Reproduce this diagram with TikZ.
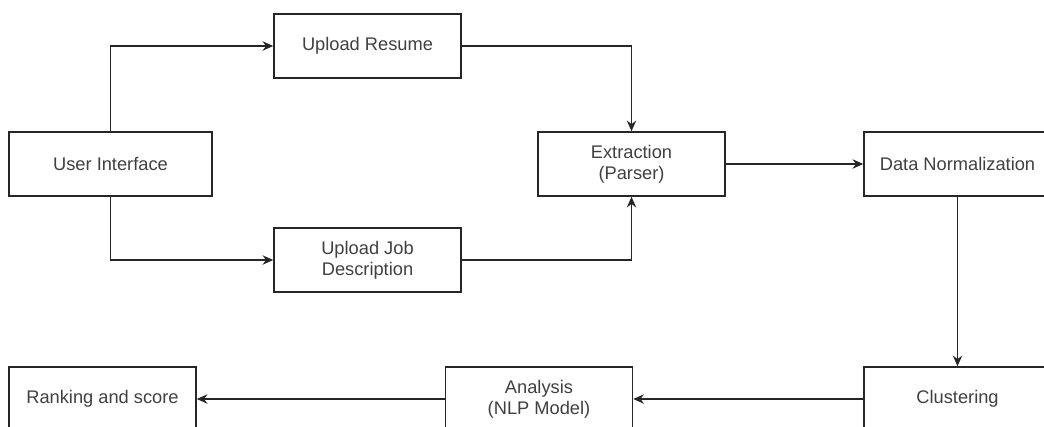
\documentclass[tikz,border=0pt]{standalone}
\usepackage{fontspec}
\setmainfont{Liberation Sans}
\usetikzlibrary{arrows.meta, positioning}

\begin{document}
\begin{tikzpicture}[x=0.75pt, y=-0.75pt, >={Stealth[length=8pt,width=7pt]},
    stepbox/.style={rectangle, draw=black!85, line width=1.1pt, minimum width=140.25pt, minimum height=48pt, align=center, text=black!75, font=\fontsize{13.7}{16}\selectfont},
    flow/.style={->, line width=1.1pt, draw=black!85}]
      \useasboundingbox (0,0) rectangle (1044,426);
      \clip (0,0) rectangle (1044,426);
      \node (ui) [stepbox, minimum width=152.25pt] at (110.5,164) {User Interface};
      \node (upres) [stepbox] at (367.5,46) {Upload Resume};
      \node (upjd) [stepbox] at (367.5,260) {Upload Job\\Description};
      \node (ext) [stepbox] at (631.5,164) {Extraction\\(Parser)};
      \node (norm) [stepbox] at (957.5,164) {Data Normalization};
      \node (clus) [stepbox] at (957.5,399) {Clustering};
      \node (ana) [stepbox] at (539,399) {Analysis\\(NLP Model)};
      \node (rank) [stepbox] at (102.5,399) {Ranking and score};

      \draw[flow] (ui.north) |- (upres.west);
      \draw[flow] (ui.south) |- (upjd.west);
      \draw[flow] (upres.east) -| (ext.north);
      \draw[flow] (upjd.east) -| (ext.south);
      \draw[flow] (ext) -- (norm);
      \draw[flow] (norm) -- (clus);
      \draw[flow] (clus) -- (ana);
      \draw[flow] (ana) -- (rank);
    \end{tikzpicture}
\end{document}
